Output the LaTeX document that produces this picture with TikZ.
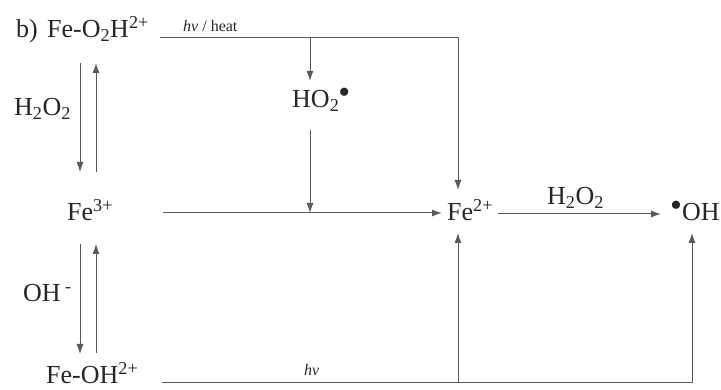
\documentclass[tikz,border=0pt]{standalone}
\usepackage{fontspec}
\setmainfont{Liberation Serif}
\usetikzlibrary{arrows.meta}
\newcommand{\rdot}{\raisebox{4pt}{\fontsize{34}{34}\selectfont •}}
\begin{document}
\begin{tikzpicture}[x=1pt,y=-1pt,
  lbl/.style={anchor=base west,inner sep=0pt,text=black!85,font=\fontsize{26}{29}\selectfont},
  small/.style={anchor=base west,inner sep=0pt,text=black!85,font=\fontsize{16}{18}\selectfont},
  ln/.style={draw=black!65,line width=1pt},
  arr/.style={ln,-{Latex[length=10pt,width=7pt]}}]
\useasboundingbox (0,0) rectangle (721,390);
% text nodes
\node[lbl] (b) at (16,38) {b)};
\node[lbl] (feo2h) at (47,38) {Fe-O\textsubscript{2}H\textsuperscript{2+}};
\node[lbl] (h2o2a) at (14,116) {H\textsubscript{2}O\textsubscript{2}};
\node[lbl] (fe3) at (67,221) {Fe\textsuperscript{3+}};
\node[lbl] (ohm) at (23,302) {OH\,\textsuperscript{-}};
\node[lbl,text depth=0pt] (feoh) at (46,384) {Fe-OH\textsuperscript{2+}};
\node[lbl] (ho2) at (292,108) {HO\textsubscript{2}\kern-1pt\rdot};
\node[lbl] (fe2) at (447,221) {Fe\textsuperscript{2+}};
\node[lbl] (h2o2b) at (547,205) {H\textsubscript{2}O\textsubscript{2}};
\node[lbl] (oh) at (670,221) {\rdot OH};
\node[small] (hvheat) at (183,32) {\textit{hν} / heat};
\node[small] (hv) at (304,375) {\textit{hν}};
% coordinates
\coordinate (t0) at (160,38);
\coordinate (t1) at (458,38);
\coordinate (t2) at (458,190);
\coordinate (tb) at (310,38);
\coordinate (tb2) at (310,81);
\coordinate (h0) at (310,130);
\coordinate (h1) at (310,213);
\coordinate (f0) at (163,213);
\coordinate (f1) at (442,213);
\coordinate (g0) at (498,214);
\coordinate (g1) at (661,214);
\coordinate (d0) at (80,63);
\coordinate (d1) at (80,172);
\coordinate (u0) at (96,172);
\coordinate (u1) at (96,63);
\coordinate (d2) at (80,244);
\coordinate (d3) at (80,354);
\coordinate (u2) at (96,353);
\coordinate (u3) at (96,244);
\coordinate (b0) at (162,383);
\coordinate (b1) at (692,383);
\coordinate (b2) at (692,233);
\coordinate (bm) at (458,383);
\coordinate (bm2) at (458,233);
% connectors
\draw[arr] (t0) -- (t1) -- (t2);
\draw[arr] (tb) -- (tb2);
\draw[arr] (h0) -- (h1);
\draw[arr] (f0) -- (f1);
\draw[arr] (g0) -- (g1);
\draw[arr] (d0) -- (d1);
\draw[arr] (u0) -- (u1);
\draw[arr] (d2) -- (d3);
\draw[arr] (u2) -- (u3);
\draw[arr] (b0) -- (b1) -- (b2);
\draw[arr] (bm) -- (bm2);
\end{tikzpicture}
\end{document}
